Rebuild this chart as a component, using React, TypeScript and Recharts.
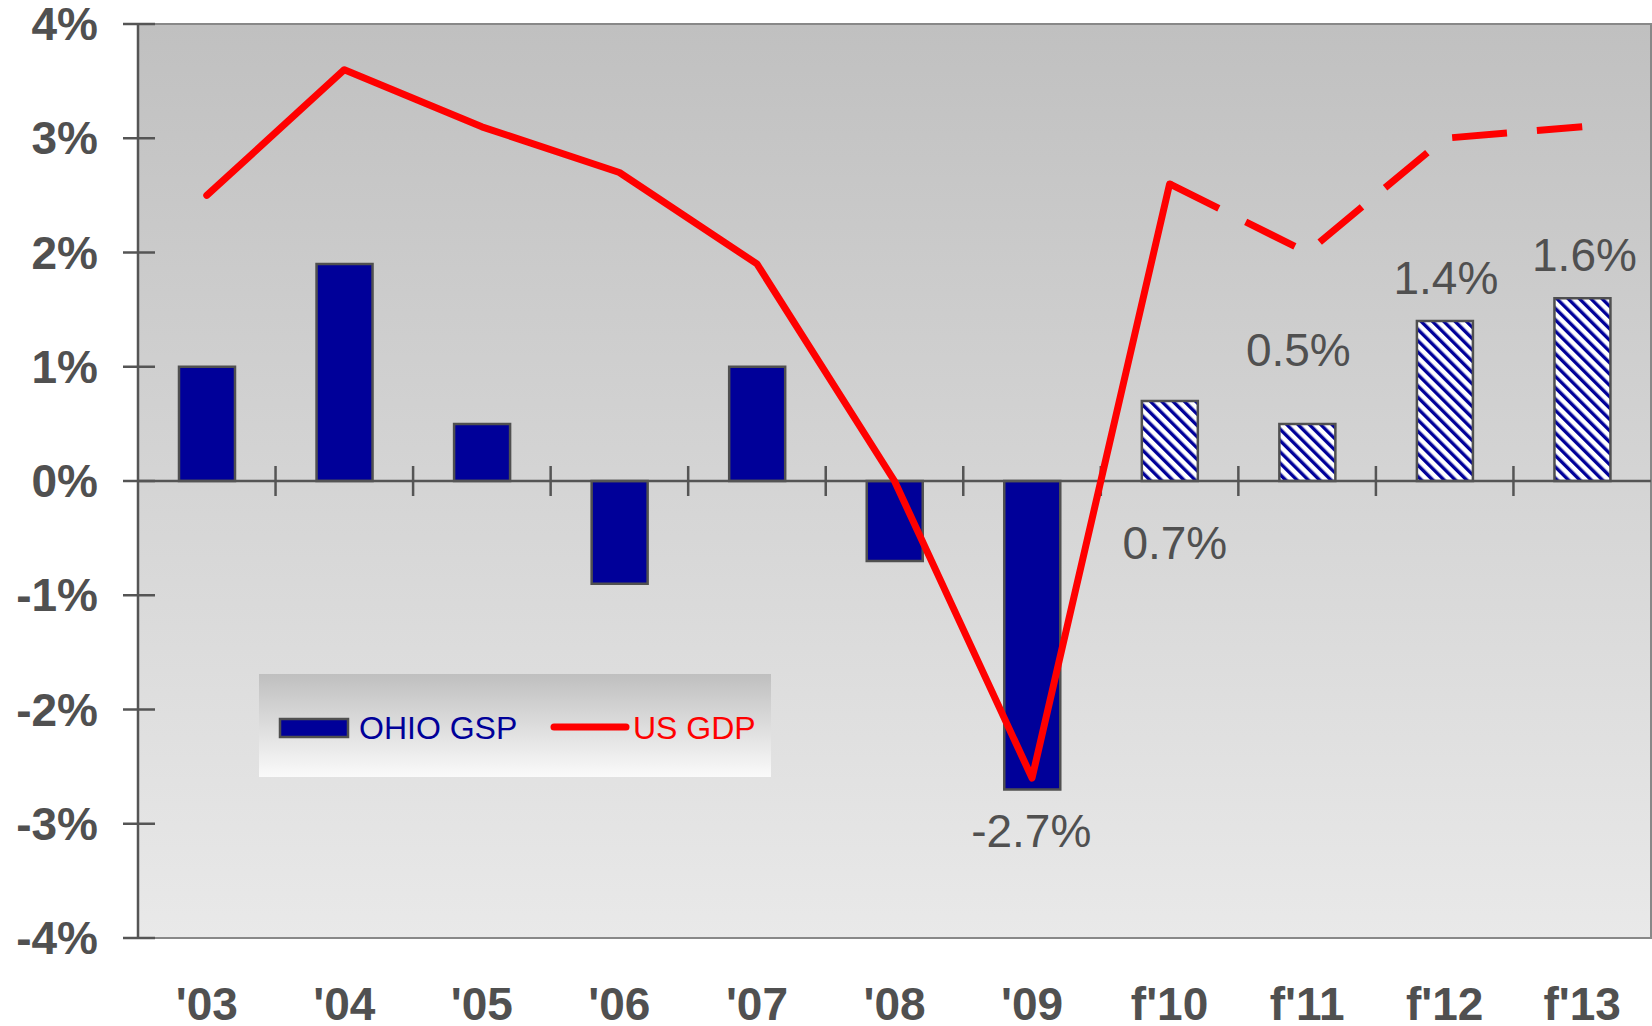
import React from 'react';
import {
  ComposedChart,
  Bar,
  Line,
  XAxis,
  YAxis,
  CartesianGrid,
  ReferenceLine,
  ReferenceArea,
  Legend,
  LabelList,
  Cell,
} from 'recharts';

// ---------- data ----------
const categories = ["'03", "'04", "'05", "'06", "'07", "'08", "'09", "f'10", "f'11", "f'12", "f'13"];
const ohioGsp = [1.0, 1.9, 0.5, -0.9, 1.0, -0.7, -2.7, 0.7, 0.5, 1.4, 1.6];
const usGdpActual = [2.5, 3.6, 3.1, 2.7, 1.9, 0.0, -2.6, 2.6, null, null, null];
const usGdpForecast = [null, null, null, null, null, null, null, 2.6, 2.0, 3.0, 3.1];
const yTicks = [-4, -3, -2, -1, 0, 1, 2, 3, 4];
const seriesNames = { ohio: 'OHIO GSP', gdp: 'US GDP' };

const data = categories.map((cat, i) => ({
  cat,
  ohio: ohioGsp[i],
  gdp: usGdpActual[i],
  gdpF: usGdpForecast[i],
  forecast: cat.startsWith('f'),
}));

// ---------- style / placement ----------
const FONT = "'Liberation Sans', Arial, sans-serif";
const TEXT_GRAY = '#505050';
const NAVY = '#000099';
const RED = '#ff0000';
const W = 1652;
const H = 1026;

// label placement tweaks (dx, dy) relative to bar end, keyed by category
const LABEL_OFFSETS: Record<string, [number, number]> = {
  "'09": [-1, 42],
  "f'10": [5, 142],
  "f'11": [-9, -74],
  "f'12": [1, -43],
  "f'13": [2, -43],
};

const YTick = (props: any) => {
  const { x, y, payload } = props;
  return (
    <g>
      <line x1={x - 15} x2={x + 17} y1={y} y2={y} stroke="#555" strokeWidth={2.5} />
      <text
        x={x - 40}
        y={y + 16}
        textAnchor="end"
        fontFamily={FONT}
        fontWeight="bold"
        fontSize={46}
        fill={TEXT_GRAY}
      >
        {`${payload.value}%`}
      </text>
    </g>
  );
};

const XTick = (props: any) => {
  const { x, y, payload } = props;
  return (
    <text
      x={x}
      y={y + 82}
      textAnchor="middle"
      fontFamily={FONT}
      fontWeight="bold"
      fontSize={46}
      fill={TEXT_GRAY}
    >
      {payload.value}
    </text>
  );
};

const ZeroLine = (props: any) => {
  const { x1, y1, x2, y2 } = props;
  const n = categories.length;
  const step = (x2 - x1) / n;
  return (
    <g>
      <line x1={x1} y1={y1} x2={x2} y2={y2} stroke="#555" strokeWidth={2.5} />
      {categories.slice(1).map((_, k) => {
        const bx = x1 + step * (k + 1);
        return <line key={k} x1={bx} x2={bx} y1={y1 - 15} y2={y1 + 15} stroke="#555" strokeWidth={2.5} />;
      })}
    </g>
  );
};

const BarLabel = (props: any) => {
  const { x, y, width, height, value, index } = props;
  const cat = categories[index];
  const off = LABEL_OFFSETS[cat];
  if (!off || value == null) return null;
  const h = Number(height) || 0;
  const endY = value >= 0 ? Math.min(y, y + h) : Math.max(y, y + h);
  return (
    <text
      x={x + width / 2 + off[0]}
      y={endY + off[1]}
      textAnchor="middle"
      dominantBaseline="central"
      fontFamily={FONT}
      fontSize={46}
      fill={TEXT_GRAY}
    >
      {`${Number(value).toFixed(1)}%`}
    </text>
  );
};

const LegendContent = (props: any) => {
  const payload = (props.payload || []).filter((p: any) => p.type !== 'none' && p.dataKey !== 'gdpF');
  const bar = payload.find((p: any) => p.dataKey === 'ohio');
  const line = payload.find((p: any) => p.dataKey === 'gdp');
  return (
    <svg width={512} height={103} style={{ display: 'block' }}>
      {bar && (
        <g>
          <rect x={21} y={45} width={68} height={18} fill={NAVY} stroke="#505050" strokeWidth={2.5} />
          <text x={100} y={65} fontFamily={FONT} fontSize={32} fill={NAVY}>
            {bar.value}
          </text>
        </g>
      )}
      {line && (
        <g>
          <line x1={295} x2={367} y1={53} y2={53} stroke={RED} strokeWidth={7} strokeLinecap="round" />
          <text x={374} y={65} fontFamily={FONT} fontSize={32} fill={RED}>
            {line.value}
          </text>
        </g>
      )}
    </svg>
  );
};

export default function App() {
  return (
    <div style={{ position: 'absolute', left: 0, top: 0, width: W, height: H, background: '#fff' }}>
      <ComposedChart
        width={W}
        height={H}
        data={data}
        margin={{ top: 24, right: 1, left: 0, bottom: 0 }}
      >
        <defs>
          <linearGradient id="plotBg" x1="0" y1="0" x2="0" y2="1">
            <stop offset="0%" stopColor="#c0c0c0" />
            <stop offset="100%" stopColor="#e9e9e9" />
          </linearGradient>
          <pattern
            id="hatch"
            patternUnits="userSpaceOnUse"
            width={8}
            height={8}
            patternTransform="rotate(-45)"
          >
            <rect x={0} y={0} width={8} height={8} fill="#ffffff" />
            <rect x={0} y={0} width={3.4} height={8} fill={NAVY} />
          </pattern>
        </defs>
        <CartesianGrid fill="url(#plotBg)" horizontal={false} vertical={false} />
        <ReferenceArea y1={-4} y2={4} fill="none" stroke="#888" strokeWidth={2} ifOverflow="visible" />
        <XAxis
          dataKey="cat"
          interval={0}
          height={88}
          tickLine={false}
          tickSize={0}
          tickMargin={0}
          axisLine={{ stroke: '#888', strokeWidth: 2 }}
          tick={<XTick />}
        />
        <YAxis
          type="number"
          domain={[-4, 4]}
          ticks={yTicks}
          width={138}
          tickLine={false}
          tickSize={0}
          tickMargin={0}
          axisLine={{ stroke: '#555', strokeWidth: 2.5 }}
          tick={<YTick />}
          allowDataOverflow
        />
        <ReferenceLine y={0} shape={<ZeroLine />} ifOverflow="visible" />
        <Bar
          dataKey="ohio"
          name={seriesNames.ohio}
          fill={NAVY}
          stroke="#505050"
          strokeWidth={2.5}
          barSize={56}
          legendType="rect"
          isAnimationActive={false}
        >
          {data.map((d, i) => (
            <Cell key={i} fill={d.forecast ? 'url(#hatch)' : NAVY} />
          ))}
          <LabelList dataKey="ohio" content={<BarLabel />} />
        </Bar>
        <Line
          dataKey="gdp"
          name={seriesNames.gdp}
          stroke={RED}
          strokeWidth={7}
          strokeLinejoin="round"
          strokeLinecap="round"
          dot={false}
          activeDot={false}
          legendType="line"
          isAnimationActive={false}
        />
        <Line
          dataKey="gdpF"
          name={seriesNames.gdp + ' forecast'}
          stroke={RED}
          strokeWidth={7}
          strokeDasharray="55 30"
          strokeLinecap="butt"
          dot={false}
          activeDot={false}
          legendType="none"
          isAnimationActive={false}
        />
        <Legend
          layout="horizontal"
          verticalAlign="middle"
          align="center"
          content={<LegendContent />}
          wrapperStyle={{
            position: 'absolute',
            left: 259,
            top: 674,
            width: 512,
            height: 103,
            background: 'linear-gradient(#bfbfbf, #fafafa)',
            margin: 0,
            padding: 0,
          }}
        />
      </ComposedChart>
    </div>
  );
}
